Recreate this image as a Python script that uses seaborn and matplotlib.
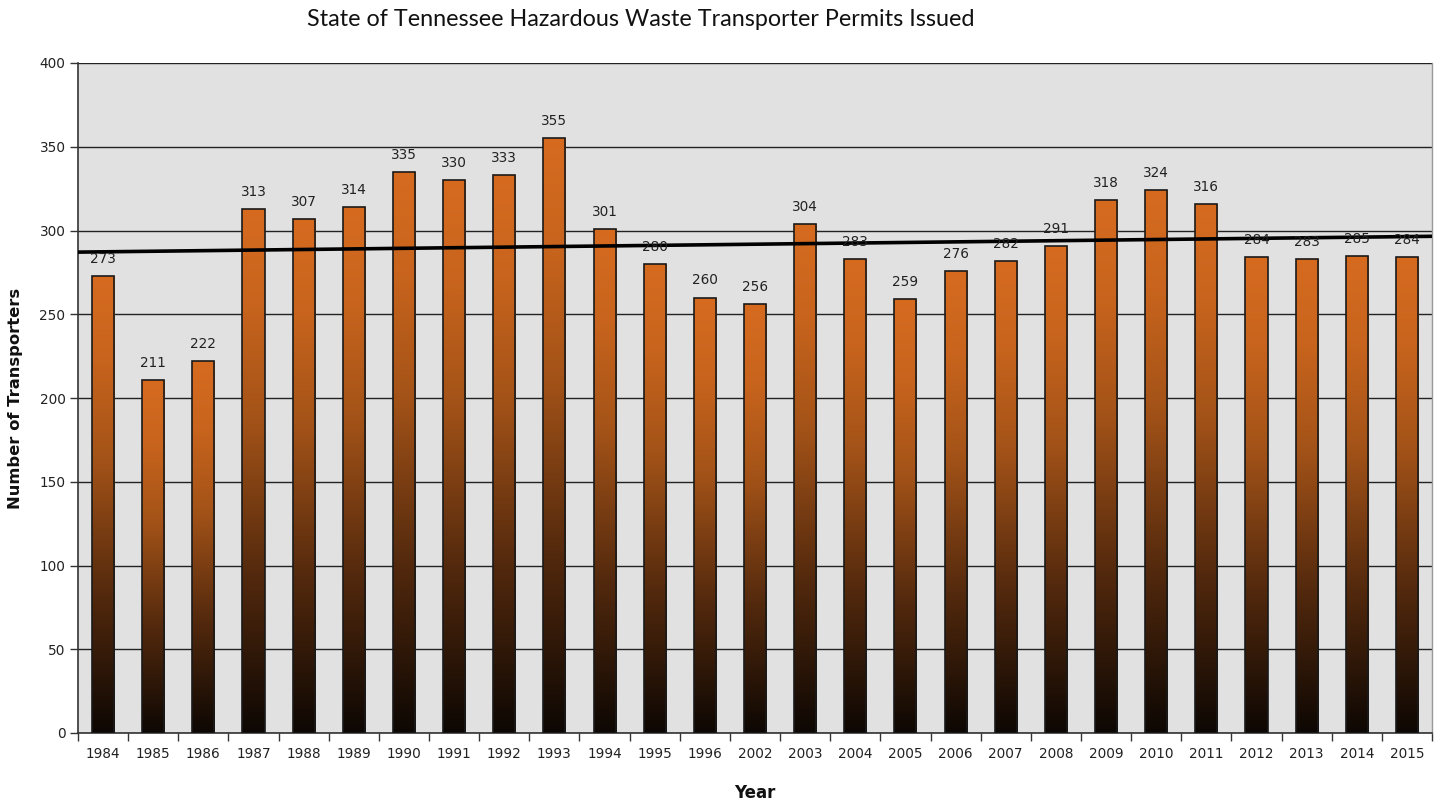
import numpy as np
import pandas as pd
import matplotlib
matplotlib.use("Agg")
import matplotlib.pyplot as plt
import seaborn as sns
from matplotlib.colors import LinearSegmentedColormap

years = ["1984", "1985", "1986", "1987", "1988", "1989", "1990", "1991", "1992",
         "1993", "1994", "1995", "1996", "2002", "2003", "2004", "2005", "2006",
         "2007", "2008", "2009", "2010", "2011", "2012", "2013", "2014", "2015"]
transporters = [273, 211, 222, 313, 307, 314, 335, 330, 333, 355, 301, 280, 260,
                256, 304, 283, 259, 276, 282, 291, 318, 324, 316, 284, 283, 285, 284]
y_ticks = [0, 50, 100, 150, 200, 250, 300, 350, 400]

df = pd.DataFrame({"Year": years, "Transporters": transporters})

sns.set_theme(style="white")
plt.rcParams['font.family'] = ['DejaVu Sans']

fig = plt.figure(figsize=(14.45, 8.01), dpi=100)
ax = fig.add_axes([78/1445, 68/801, (1432-78)/1445, (733-63)/801])
ax.set_facecolor("#E1E1E1")

sns.barplot(data=df, x="Year", y="Transporters", ax=ax, width=0.44,
            color="#D2691E", edgecolor="#1a1a1a", linewidth=1.2, zorder=3)

cmap = LinearSegmentedColormap.from_list(
    "orange_black",
    [(0.0, "#0d0703"), (0.3, "#53290d"), (0.6, "#a45318"), (0.82, "#c8641d"), (1.0, "#d66b20")])
grad = np.linspace(0, 1, 256).reshape(-1, 1)
for patch in ax.patches:
    x0, y0 = patch.get_x(), patch.get_y()
    w, h = patch.get_width(), patch.get_height()
    im = ax.imshow(grad, cmap=cmap, origin="lower", aspect="auto",
                   extent=[x0, x0 + w, y0, y0 + h], zorder=3)
    im.set_clip_path(patch)
    patch.set_facecolor("none")
    patch.set_zorder(4)

# linear trend line
idx = np.arange(len(transporters))
coef = np.polyfit(idx, transporters, 1)
xs = np.array([-0.5, len(transporters) - 0.5])
ax.plot(xs, np.polyval(coef, xs), color="black", linewidth=2.6, zorder=5)

for i, v in enumerate(transporters):
    ax.text(i, v + 6, str(v), ha="center", va="bottom", fontsize=9.8,
            color="#222222", zorder=6)

ax.set_xlim(-0.5, len(years) - 0.5)
ax.set_ylim(0, 400)
ax.set_yticks(y_ticks)
ax.yaxis.grid(True, color="#222222", linewidth=1.0)
ax.set_axisbelow(True)
for gl in ax.get_ygridlines():
    gl.set_zorder(1)

ax.tick_params(axis="y", which="major", length=6, width=1, color="#333333",
               labelsize=9.8, labelcolor="#222222", left=True, pad=3)
ax.set_xticks(idx)
ax.set_xticklabels(years)
ax.tick_params(axis="x", which="major", length=0, labelsize=9.8,
               labelcolor="#222222", pad=10)
ax.set_xticks(np.arange(-0.5, len(years), 1.0), minor=True)
ax.tick_params(axis="x", which="minor", length=6, width=1, color="#333333",
               bottom=True)

for s in ["left", "bottom"]:
    ax.spines[s].set_color("#333333")
    ax.spines[s].set_linewidth(1.2)
ax.spines["top"].set_visible(False)
ax.spines["right"].set_color("#999999")
ax.spines["right"].set_linewidth(1.0)

ax.set_xlabel("Year", fontsize=12, fontweight="bold", color="#111111", labelpad=17)
ax.set_ylabel("Number of Transporters", fontsize=11.8, fontweight="bold",
              color="#111111", labelpad=12)

fig.text(641/1445, 1 - 20/801, "State of Tennessee Hazardous Waste Transporter Permits Issued",
         ha="center", va="center", fontsize=16.8, color="#111111", family=["Lato", "DejaVu Sans"])

fig.savefig("out.png", dpi=100)
